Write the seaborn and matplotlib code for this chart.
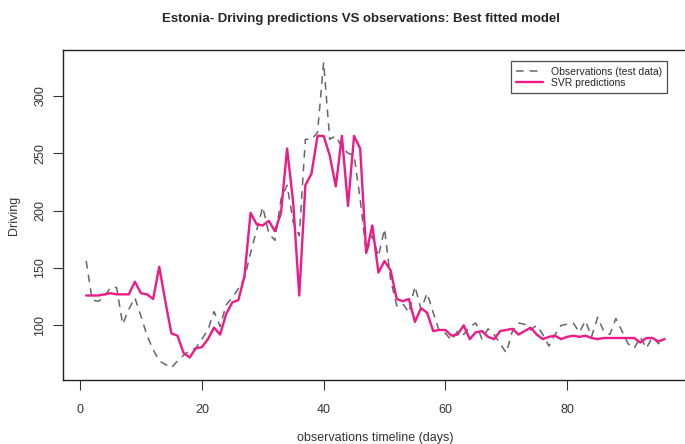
import matplotlib
matplotlib.use("Agg")
import matplotlib.pyplot as plt
import pandas as pd
import seaborn as sns

days = list(range(1, 97))

observations = [
    156, 122, 121, 125, 133, 133, 101, 114, 124, 108,
    91, 79, 69, 66, 63, 69, 74, 78, 80, 88,
    96, 112, 99, 118, 124, 132, 141, 163, 183, 203,
    180, 174, 210, 222, 190, 178, 262, 262, 268, 329,
    262, 265, 255, 250, 248, 210, 163, 178, 160, 184,
    140, 117, 119, 111, 134, 114, 128, 111, 95, 93,
    87, 95, 92, 99, 102, 88, 97, 92, 84, 76,
    95, 102, 101, 96, 100, 92, 82, 92, 100, 101,
    102, 94, 104, 90, 107, 95, 92, 106, 95, 84,
    80, 90, 80, 90, 84, 89,
]

predictions = [
    126, 126, 126, 127, 128, 127, 127, 127, 138, 128,
    127, 123, 151, 121, 93, 91, 76, 72, 80, 81,
    88, 98, 92, 110, 120, 122, 143, 198, 188, 187,
    191, 182, 198, 254, 207, 126, 222, 232, 265, 265,
    248, 221, 265, 204, 265, 254, 163, 187, 146, 156,
    148, 123, 121, 123, 103, 115, 111, 95, 96, 96,
    91, 92, 100, 88, 94, 95, 90, 88, 95, 96,
    97, 92, 95, 98, 92, 88, 90, 91, 88, 90,
    91, 90, 91, 89, 88, 89, 89, 89, 89, 89,
    89, 85, 89, 89, 86, 88,
]

df = pd.DataFrame({"day": days, "obs": observations, "pred": predictions})

sns.set_style("ticks")
plt.rcParams["font.family"] = ["Liberation Sans", "DejaVu Sans"]

fig = plt.figure(figsize=(6.85, 4.44), dpi=100)
ax = fig.add_axes([0.092, 0.144, 0.912, 0.743])

sns.lineplot(data=df, x="day", y="obs", ax=ax, color="#666666", linewidth=1.1,
             label="Observations (test data)")
ax.lines[-1].set_linestyle((0, (5, 4)))
sns.lineplot(data=df, x="day", y="pred", ax=ax, color="#ee1a85", linewidth=1.7,
             label="SVR predictions")

# R-style 4% axis expansion
lo, hi = min(observations + predictions), max(observations + predictions)
pad = (hi - lo) * 0.04
ax.set_ylim(lo - pad, hi + pad)
ax.set_xlim(-2.8, 99.8)

ax.set_xticks([0, 20, 40, 60, 80])
ax.set_yticks([100, 150, 200, 250, 300])
ax.tick_params(axis="both", direction="out", length=7, width=0.8, labelsize=9,
               colors="#333333")
ax.tick_params(axis="x", pad=10)
ax.tick_params(axis="y", pad=5)
for lab in ax.get_yticklabels():
    lab.set_rotation(90)
    lab.set_va("center")

for s in ax.spines.values():
    s.set_visible(True)
    s.set_color("#222222")
    s.set_linewidth(1.0)

ax.set_xlabel("observations timeline (days)", fontsize=9, labelpad=12, color="#333333")
ax.set_ylabel("Driving", fontsize=9, labelpad=10, color="#333333")
ax.grid(False)

leg = ax.legend(loc="upper left", bbox_to_anchor=(0.708, 0.982), fontsize=7.5,
                frameon=True, fancybox=False, handlelength=2.6, borderpad=0.5,
                labelspacing=0.15, handletextpad=0.8)
leg.get_frame().set_edgecolor("#222222")
leg.get_frame().set_linewidth(0.9)

fig.text(0.527, 0.957, "Estonia- Driving predictions VS observations: Best fitted model",
         ha="center", va="center", fontsize=9.5, fontweight="bold")

fig.savefig("out.png", dpi=100)
